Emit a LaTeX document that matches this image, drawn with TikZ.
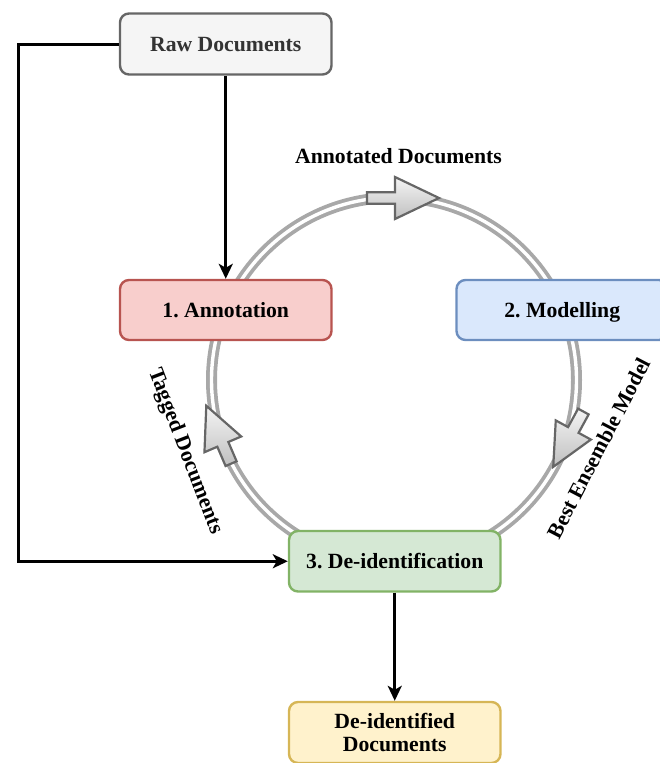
\documentclass[tikz,border=0pt]{standalone}
\usepackage{fontspec}
\setmainfont{Liberation Serif}
\usetikzlibrary{arrows.meta}
\frenchspacing
\definecolor{rawfill}{HTML}{F5F5F5}
\definecolor{rawline}{HTML}{666666}
\definecolor{rawtext}{HTML}{333333}
\definecolor{annfill}{HTML}{F8CECC}
\definecolor{annline}{HTML}{B85450}
\definecolor{modfill}{HTML}{DAE8FC}
\definecolor{modline}{HTML}{6C8EBF}
\definecolor{deifill}{HTML}{D5E8D4}
\definecolor{deiline}{HTML}{82B366}
\definecolor{outfill}{HTML}{FFF2CC}
\definecolor{outline}{HTML}{D6B656}
\definecolor{ringgray}{HTML}{A8A8A8}
\definecolor{arrline}{HTML}{666666}
\tikzset{
  boxnode/.style={draw, line width=2.4pt, rounded corners=9pt,
    minimum width=211.5pt, minimum height=60.5pt, inner sep=0pt,
    font=\fontsize{21.7}{23.2}\selectfont\bfseries, align=center},
  onetext/.style={text height=14.3pt, text depth=0pt},
  lbl/.style={font=\fontsize{21.7}{23.2}\selectfont\bfseries, inner sep=0pt,
    text height=14.3pt, text depth=0pt},
  conn/.style={line width=3pt, -{Stealth[length=15pt,width=14pt,inset=4pt]}},
  ring/.style={draw=ringgray, double=white, line width=3.8pt, double distance=3.4pt},
  carrow/.style={draw=arrline, line width=2.2pt, line join=miter,
    top color=gray!8, bottom color=gray!50}
}
\begin{document}
\begin{tikzpicture}[x=1pt,y=-1pt]
\useasboundingbox (0,0) rectangle (659,763);

% ring
\draw[ring] (394,380) circle[radius=182.5];

% ring arrows
\begin{scope}[shift={(403,198)}]
  \draw[carrow] (-36,-5.7) -- (-8,-5.7) -- (-8,-21) -- (36,0) -- (-8,21) -- (-8,5.7) -- (-36,5.7) -- cycle;
\end{scope}
\begin{scope}[shift={(218.7,434.7)}, rotate=113.2]
  \draw[carrow] (-31.5,-6) -- (-10.5,-6) -- (-10.5,-20) -- (31.5,0) -- (-10.5,20) -- (-10.5,6) -- (-31.5,6) -- cycle;
\end{scope}
\begin{scope}[shift={(568.3,439.2)}, rotate=241.4]
  \draw[carrow] (-31.5,-6) -- (-10.5,-6) -- (-10.5,-20) -- (31.5,0) -- (-10.5,20) -- (-10.5,6) -- (-31.5,6) -- cycle;
\end{scope}

% boxes
\node[boxnode, onetext, fill=rawfill, draw=rawline, text=rawtext, minimum height=61pt] (raw) at (225.75,44) {Raw Documents};
\node[boxnode, onetext, fill=annfill, draw=annline, minimum height=60pt] (ann) at (225.75,310) {1. Annotation};
\node[boxnode, onetext, fill=modfill, draw=modline, minimum height=60pt] (mod) at (562.25,310) {2. Modelling};
\node[boxnode, onetext, fill=deifill, draw=deiline] (dei) at (394.75,561.25) {3. De-identification};
\node[boxnode, fill=outfill, draw=outline, minimum height=61pt] (out) at (394.75,732.5) {De-identified\\Documents};

% labels
\node[lbl] (lann) at (398.5,156) {Annotated Documents};
\node[lbl, rotate=-69] (ltag) at (186.7,450.7) {Tagged Documents};
\node[lbl, rotate=62.5] (lbest) at (599.2,448.3) {Best Ensemble Model};

% connectors
\coordinate (corner) at (18.5,44);
\draw[conn] (raw.south) -- (ann.north);
\draw[conn] (raw.west) -- (corner) |- (dei.west);
\draw[conn] (dei.south) -- (out.north);
\end{tikzpicture}
\end{document}
